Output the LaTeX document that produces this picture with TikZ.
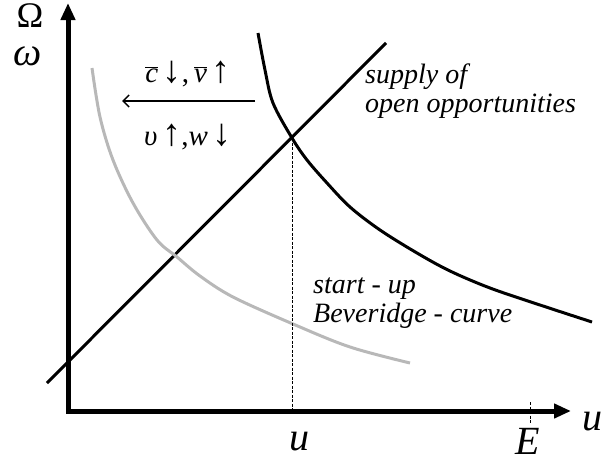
\documentclass[tikz,border=0pt]{standalone}
\usepackage{fontspec}
\setmainfont{Liberation Serif}
\usetikzlibrary{arrows.meta}
\definecolor{curvegray}{gray}{0.72}
\newcommand{\barred}[1]{$\overline{\hbox{\itshape #1}}$}
\newcommand{\arr}[1]{\,{\fontsize{38}{38}\selectfont\upshape #1}}
\begin{document}
\begin{tikzpicture}[x=1pt, y=-1pt, font=\fontsize{28}{29}\selectfont\itshape,
  axis/.style={line width=5pt, line join=miter,
    {Triangle[length=17pt,width=14pt]}-{Triangle[length=17pt,width=14pt]}},
  curve/.style={line width=3pt},
  big/.style={font=\fontsize{40}{40}\selectfont\itshape}]
  \useasboundingbox (0,0) rectangle (604,463);
  % axes
  \coordinate (O) at (68,411);
  \coordinate (ytop) at (68,3);
  \coordinate (xend) at (571,411);
  \draw[line width=1pt, dash pattern=on 3pt off 1.5pt] (530,402) -- (530,423);
  \draw[axis] (ytop) -- (O) -- (xend);
  \node[inner sep=0, font=\fontsize{36}{36}\selectfont] (Omega) at (30,16) {Ω};
  \node[inner sep=0, big] (omega) at (28,56) {ω};
  \node[big, anchor=base] (ulab) at (299,450) {u};
  \node[big, anchor=base] (Elab) at (528,454) {E};
  \node[big, anchor=base] (uaxis) at (592,430) {u};
  % supply of open opportunities
  \coordinate (s1) at (47,383);
  \coordinate (s2) at (386,43);
  \draw[curve] (s1) -- (s2);
  % black curve
  \draw[curve] plot[smooth, tension=0.55] coordinates {(258,33) (265,70) (273,103)
    (292,138) (307,160) (327,183) (350,207) (380,230) (417,253) (450,271)
    (490,288) (540,305) (592,322)};
  % start-up Beveridge curve
  \draw[curve, curvegray] plot[smooth, tension=0.55] coordinates {(92,68) (100,117)
    (113,160) (133,203) (157,240) (177,257) (200,276) (233,297) (293,324)
    (350,347) (410,363)};
  % equilibrium
  \coordinate (eq) at (292,138);
  \draw[line width=1pt, dash pattern=on 3pt off 1.5pt] (eq) -- (eq |- O);
  % shift
  \coordinate (arrR) at (255,101);
  \coordinate (arrL) at (122,101);
  \draw[line width=1.5pt, -{Straight Barb[length=6pt,width=12pt]}] (arrR) -- (arrL);
  \node[anchor=base, font=\fontsize{29}{29}\selectfont] (shiftup) at (188,82) {\barred{c}\arr{↓},\,\barred{ν}\arr{↑}};
  \node[anchor=base, font=\fontsize{29}{29}\selectfont] (shiftdn) at (188,145) {{\itshape υ}\arr{↑},{\itshape w}\arr{↓}};
  % labels
  \node[anchor=base west, inner sep=0] (supply1) at (365,83) {supply of};
  \node[anchor=base west, inner sep=0] (supply2) at (365,112) {open opportunities};
  \node[anchor=base west, inner sep=0] (bev1) at (313,293) {start - up};
  \node[anchor=base west, inner sep=0] (bev2) at (313,322) {Beveridge - curve};
\end{tikzpicture}
\end{document}
